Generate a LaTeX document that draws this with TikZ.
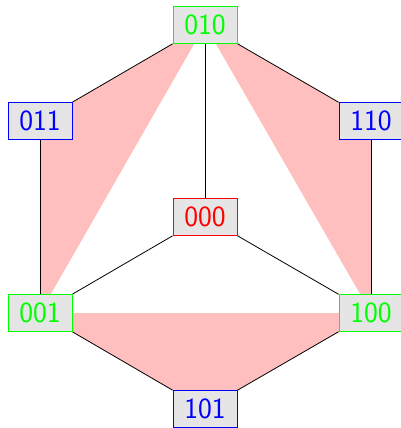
\documentclass[tikz,border=0pt]{standalone}
\usetikzlibrary{backgrounds}
\begin{document}
\begin{tikzpicture}[x=0.75pt,y=0.75pt,
  vbox/.style={draw,fill=gray!20,minimum width=48pt,minimum height=28pt,inner sep=0pt,
    font=\sffamily\fontsize{22}{24}\selectfont,line width=0.6pt},
  gv/.style={vbox,draw=green,text=green},
  bv/.style={vbox,draw=blue,text=blue},
  rv/.style={vbox,draw=red,text=red},
  edge/.style={draw=black,line width=0.6pt},
  face/.style={fill=red!25}]
\useasboundingbox (-205,-211) rectangle (195,217);
\node[rv] (n000) at (0,0) {000};
\node[gv] (n010) at (0,192) {010};
\node[bv] (n011) at (-165,96) {011};
\node[bv] (n110) at (166,96) {110};
\node[gv] (n001) at (-165,-96) {001};
\node[gv] (n100) at (166,-96) {100};
\node[bv] (n101) at (0,-192) {101};
\begin{scope}[on background layer]
\fill[face] (n010.center) -- (n011.center) -- (n001.center) -- cycle;
\fill[face] (n010.center) -- (n110.center) -- (n100.center) -- cycle;
\fill[face] (n001.center) -- (n101.center) -- (n100.center) -- cycle;
\draw[edge] (n010) -- (n011);
\draw[edge] (n011) -- (n001);
\draw[edge] (n001) -- (n101);
\draw[edge] (n101) -- (n100);
\draw[edge] (n100) -- (n110);
\draw[edge] (n110) -- (n010);
\draw[edge] (n000) -- (n010);
\draw[edge] (n000) -- (n001);
\draw[edge] (n000) -- (n100);
\end{scope}
\end{tikzpicture}
\end{document}
